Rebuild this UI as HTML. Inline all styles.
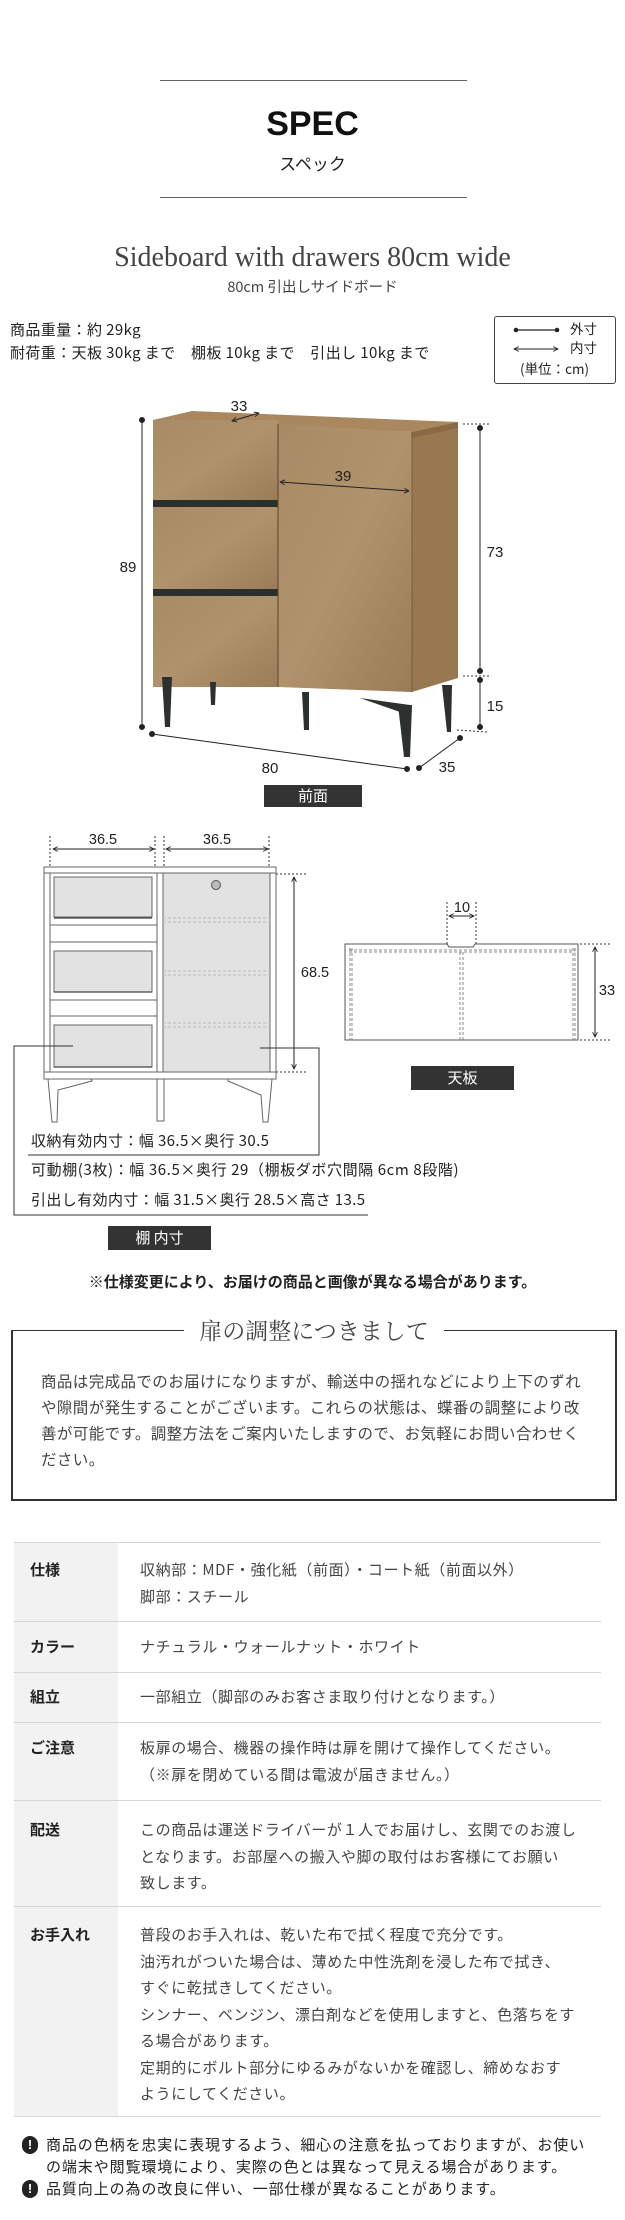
<!DOCTYPE html>
<html><head><meta charset="utf-8">
<style>
*{margin:0;padding:0;box-sizing:border-box}
body{width:625px;height:2220px;background:#fff;position:relative;overflow:hidden;font-family:"Liberation Sans","Noto Sans CJK JP",sans-serif;color:#333}
.a{position:absolute;white-space:nowrap}
.j{font-family:"Noto Sans CJK JP","Liberation Sans",sans-serif}
.lab{position:absolute;background:#333;color:#fff;text-align:center;font-size:15px;line-height:24px}
.tb{position:absolute;left:14px;width:587px;border-top:1.5px solid #d6d6d6}
.th{position:absolute;left:14px;width:104px;background:#f2f2f2}
.td{position:absolute;left:140px;font-size:15px;letter-spacing:0.6px;line-height:26.5px;color:#444;white-space:nowrap}
.tl{position:absolute;left:30px;font-size:15px;font-weight:bold;color:#222}
</style></head><body>
<div class="a" style="left:160px;top:80px;width:307px;border-top:1px solid #666"></div>
<div class="a" style="left:160px;top:197px;width:307px;border-top:1px solid #666"></div>
<div class="a" style="left:0;width:625px;top:103px;text-align:center;font-size:34px;font-weight:bold;color:#111;line-height:42px">SPEC</div>
<div class="a j" style="left:0;width:625px;top:151px;text-align:center;font-size:17px;color:#222;line-height:24px">スペック</div>
<div class="a" style="left:0;width:625px;top:241px;text-align:center;font-family:'Liberation Serif',serif;font-size:28px;color:#444;line-height:34px">Sideboard with drawers 80cm wide</div>
<div class="a j" style="left:0;width:625px;top:277px;text-align:center;font-size:14.5px;color:#444;line-height:20px">80cm 引出しサイドボード</div>
<div class="a j" style="left:10px;top:319px;font-size:15px;letter-spacing:0.4px;color:#222;line-height:22px">商品重量：約 29kg</div>
<div class="a j" style="left:10px;top:342px;font-size:15px;letter-spacing:0.4px;color:#222;line-height:22px">耐荷重：天板 30kg まで　棚板 10kg まで　引出し 10kg まで</div>
<div class="a" style="left:494px;top:316px;width:122px;height:68px;border:1px solid #444;border-radius:3px"></div>
<div class="a j" style="left:570px;top:319px;font-size:13.5px;color:#222;line-height:18px">外寸</div>
<div class="a j" style="left:570px;top:338px;font-size:13.5px;color:#222;line-height:18px">内寸</div>
<div class="a j" style="left:520px;top:359px;font-size:13.5px;color:#222;line-height:18px">(単位：cm)</div>

<svg class="a" style="left:0;top:0" width="625" height="1300" viewBox="0 0 625 1300">
<defs>
<marker id="ah" viewBox="0 0 10 10" refX="9" refY="5" markerWidth="6" markerHeight="6" orient="auto-start-reverse"><path d="M1,1 L9,5 L1,9" fill="none" stroke="#222" stroke-width="1.5"/></marker>
<linearGradient id="wd" x1="0" y1="0" x2="1" y2="1"><stop offset="0" stop-color="#a88a66"/><stop offset="0.5" stop-color="#b0926c"/><stop offset="1" stop-color="#9a7c58"/></linearGradient>
</defs>
<line x1="516" y1="330" x2="557" y2="330" stroke="#222" stroke-width="1.2"/>
<circle cx="516" cy="330" r="2.3" fill="#222"/><circle cx="557" cy="330" r="2.3" fill="#222"/>
<line x1="514" y1="349" x2="558" y2="349" stroke="#222" stroke-width="1" marker-start="url(#ah)" marker-end="url(#ah)"/>
<polygon points="153,420 192,411 458,422 412,432" fill="#a9885f"/>
<polygon points="412,432 458,422 458,678 412,692" fill="#98784f"/>
<polygon points="412,432 458,422 458,428 412,438" fill="#8a6a45"/>
<rect x="153" y="420" width="125" height="82" fill="url(#wd)"/>
<rect x="153" y="500" width="125" height="8" fill="#2c302c"/>
<rect x="153" y="507" width="125" height="84" fill="url(#wd)"/>
<rect x="153" y="589" width="125" height="8" fill="#2c302c"/>
<rect x="153" y="596" width="125" height="91" fill="url(#wd)"/>
<polygon points="278,424 412,432 412,692 278,687" fill="url(#wd)"/>
<line x1="278" y1="424" x2="278" y2="687" stroke="#5a4630" stroke-width="1"/>
<line x1="412" y1="432" x2="412" y2="692" stroke="#7a5e3e" stroke-width="1"/>
<g fill="#2c312e">
<polygon points="162,677 172,677 170,727 165,727"/>
<polygon points="210,682 216,682 215,705 211,705"/>
<polygon points="302,692 309,692 309,730 304,730"/>
<polygon points="360,698 410,705 412,712 400,712"/>
<polygon points="398,705 412,705 410,757 404,757"/>
<polygon points="442,685 452,685 451,732 447,732"/>
</g>
<g stroke="#222" stroke-width="1" fill="#222">
<line x1="142" y1="420" x2="142" y2="727"/><circle cx="142" cy="420" r="2.5"/><circle cx="142" cy="727" r="2.5"/>
<line x1="480" y1="428" x2="480" y2="671"/><circle cx="480" cy="428" r="2.5"/><circle cx="480" cy="671" r="2.5"/>
<line x1="480" y1="680" x2="480" y2="727"/><circle cx="480" cy="680" r="2.5"/><circle cx="480" cy="727" r="2.5"/>
<line x1="152" y1="734" x2="407" y2="769"/><circle cx="152" cy="734" r="2.5"/><circle cx="407" cy="769" r="2.5"/>
<line x1="419" y1="768" x2="460" y2="738"/><circle cx="419" cy="768" r="2.5"/><circle cx="460" cy="738" r="2.5"/>
</g>
<g stroke="#333" stroke-width="1" stroke-dasharray="2,2">
<line x1="463" y1="424" x2="490" y2="424"/><line x1="463" y1="676" x2="490" y2="676"/><line x1="457" y1="730" x2="487" y2="732"/>
</g>
<line x1="232" y1="421" x2="259" y2="413" stroke="#222" stroke-width="1" marker-start="url(#ah)" marker-end="url(#ah)"/>
<line x1="280" y1="482" x2="409" y2="491" stroke="#222" stroke-width="1" marker-start="url(#ah)" marker-end="url(#ah)"/>
<g font-family="Liberation Sans, sans-serif" font-size="15" fill="#222" text-anchor="middle">
<text x="239" y="411">33</text><text x="343" y="481">39</text>
<text x="128" y="572">89</text><text x="495" y="557">73</text><text x="495" y="711">15</text>
<text x="270" y="773">80</text><text x="447" y="772">35</text>
</g>

<g stroke="#333" stroke-width="1" fill="none" stroke-dasharray="2,2">
<line x1="50" y1="836" x2="50" y2="867"/><line x1="155" y1="836" x2="155" y2="867"/>
<line x1="164" y1="836" x2="164" y2="867"/><line x1="269" y1="836" x2="269" y2="867"/>
<line x1="276" y1="874" x2="308" y2="874"/><line x1="276" y1="1072" x2="308" y2="1072"/>
</g>
<line x1="53" y1="849" x2="154" y2="849" stroke="#222" stroke-width="1" marker-start="url(#ah)" marker-end="url(#ah)"/>
<line x1="166" y1="849" x2="268" y2="849" stroke="#222" stroke-width="1" marker-start="url(#ah)" marker-end="url(#ah)"/>
<line x1="294" y1="877" x2="294" y2="1069" stroke="#222" stroke-width="1" marker-start="url(#ah)" marker-end="url(#ah)"/>
<g stroke="#666" stroke-width="1" fill="#fff">
<rect x="44" y="867" width="232" height="6"/>
<rect x="44" y="873" width="6" height="199"/>
<rect x="270" y="873" width="6" height="199"/>
<rect x="157" y="873" width="6" height="199"/>
<rect x="163" y="873" width="107" height="199" fill="#e2e2e2"/>
<rect x="44" y="1072" width="232" height="7"/>
<rect x="54" y="877" width="98" height="40" fill="#e2e2e2"/>
<rect x="50" y="925" width="107" height="17"/>
<rect x="54" y="951" width="98" height="41" fill="#e2e2e2"/>
<rect x="50" y="1000" width="107" height="16"/>
<rect x="54" y="1025" width="98" height="42" fill="#e2e2e2"/>
<path d="M48,1079 L52,1122 L57,1122 L58,1090 L92,1081 L91,1079 Z"/>
<path d="M157,1079 L157,1121 L164,1121 L164,1079 Z"/>
<path d="M272,1079 L268,1122 L263,1122 L261,1095 L228,1081 L228,1079 Z"/>
</g>
<g stroke="#444" stroke-width="1.3"><line x1="54" y1="918" x2="152" y2="918"/><line x1="54" y1="992" x2="152" y2="992"/><line x1="54" y1="1067" x2="152" y2="1067"/></g>
<g stroke="#fff" stroke-width="1.2" stroke-dasharray="3,2"><line x1="163" y1="918" x2="270" y2="918"/><line x1="163" y1="922" x2="270" y2="922"/><line x1="163" y1="971" x2="270" y2="971"/><line x1="163" y1="975" x2="270" y2="975"/><line x1="163" y1="1023" x2="270" y2="1023"/><line x1="163" y1="1027" x2="270" y2="1027"/></g>
<g stroke="#999" stroke-width="0.8" stroke-dasharray="3,2"><line x1="163" y1="918" x2="270" y2="918"/><line x1="163" y1="922" x2="270" y2="922"/><line x1="163" y1="971" x2="270" y2="971"/><line x1="163" y1="975" x2="270" y2="975"/><line x1="163" y1="1023" x2="270" y2="1023"/><line x1="163" y1="1027" x2="270" y2="1027"/></g>
<circle cx="216" cy="885" r="4.5" fill="#bbb" stroke="#555"/>
<g font-family="Liberation Sans, sans-serif" font-size="14.5" fill="#222" text-anchor="middle">
<text x="103" y="844">36.5</text><text x="217" y="844">36.5</text><text x="315" y="977">68.5</text>
<text x="462" y="912">10</text><text x="607" y="995">33</text>
</g>
<g stroke="#555" stroke-width="1" fill="none">
<path d="M345,944 L447,944 L449,947 L473,947 L475,944 L578,944 L578,1040 L345,1040 Z"/>
</g>
<g stroke="#888" stroke-width="1" fill="none" stroke-dasharray="3,2">
<line x1="349" y1="950" x2="575" y2="950"/><line x1="349" y1="952" x2="575" y2="952"/>
<line x1="350" y1="948" x2="350" y2="1040"/><line x1="352" y1="948" x2="352" y2="1040"/>
<line x1="573" y1="948" x2="573" y2="1040"/><line x1="575" y1="948" x2="575" y2="1040"/>
<line x1="460" y1="952" x2="460" y2="1040"/><line x1="463" y1="952" x2="463" y2="1040"/>
</g>
<g stroke="#333" stroke-width="1" stroke-dasharray="2,2">
<line x1="447" y1="902" x2="447" y2="944"/><line x1="476" y1="902" x2="476" y2="944"/>
<line x1="580" y1="944" x2="612" y2="944"/><line x1="580" y1="1040" x2="612" y2="1040"/>
</g>
<line x1="449" y1="916" x2="474" y2="916" stroke="#222" stroke-width="1" marker-start="url(#ah)" marker-end="url(#ah)"/>
<line x1="595" y1="947" x2="595" y2="1037" stroke="#222" stroke-width="1" marker-start="url(#ah)" marker-end="url(#ah)"/>
<g stroke="#333" stroke-width="1" fill="none">
<polyline points="73,1046 14,1046 14,1215 368,1215"/>
<polyline points="260,1048 319,1048 319,1155 28,1155"/>
</g>
</svg>
<div class="lab j" style="left:264px;top:785px;width:98px;height:22px;line-height:22px">前面</div>
<div class="lab j" style="left:411px;top:1066px;width:103px;height:24px">天板</div>
<div class="lab j" style="left:108px;top:1226px;width:103px;height:24px">棚 内寸</div>
<div class="a j" style="left:31px;top:1130px;font-size:15px;letter-spacing:0.4px;color:#222;line-height:22px">収納有効内寸：幅 36.5×奥行 30.5</div>
<div class="a j" style="left:31px;top:1159px;font-size:15px;letter-spacing:0.6px;color:#222;line-height:22px">可動棚(3枚)：幅 36.5×奥行 29（棚板ダボ穴間隔 6cm 8段階)</div>
<div class="a j" style="left:31px;top:1189px;font-size:15px;letter-spacing:0.4px;color:#222;line-height:22px">引出し有効内寸：幅 31.5×奥行 28.5×高さ 13.5</div>
<div class="a j" style="left:0;width:625px;top:1271px;text-align:center;font-size:15px;font-weight:bold;color:#222;line-height:22px">※仕様変更により、お届けの商品と画像が異なる場合があります。</div>

<div class="a" style="left:11px;top:1330px;width:606px;height:171px;border:2px solid #333;border-top-width:1.5px"></div>
<div class="a" style="left:184px;top:1314px;width:260px;height:32px;background:#fff;text-align:center;font-family:'Noto Serif CJK SC','Liberation Serif',serif;font-size:23px;color:#444;line-height:32px">扉の調整につきまして</div>
<div class="a j" style="left:41px;top:1368px;font-size:15.5px;letter-spacing:0.4px;color:#444;line-height:26px">商品は完成品でのお届けになりますが、輸送中の揺れなどにより上下のずれ<br>や隙間が発生することがございます。これらの状態は、蝶番の調整により改<br>善が可能です。調整方法をご案内いたしますので、お気軽にお問い合わせく<br>ださい。</div>

<div class="th" style="top:1542px;height:574px"></div>
<div class="tb" style="top:1542px"></div><div class="tb" style="top:1621px"></div><div class="tb" style="top:1672px"></div><div class="tb" style="top:1722px"></div><div class="tb" style="top:1800px"></div><div class="tb" style="top:1906px"></div><div class="tb" style="top:2116px"></div>
<div class="tl j" style="top:1559px">仕様</div>
<div class="td j" style="top:1557px">収納部：MDF・強化紙（前面）・コート紙（前面以外）<br>脚部：スチール</div>
<div class="tl j" style="top:1636px">カラー</div>
<div class="td j" style="top:1634px">ナチュラル・ウォールナット・ホワイト</div>
<div class="tl j" style="top:1686px">組立</div>
<div class="td j" style="top:1684px">一部組立（脚部のみお客さま取り付けとなります。）</div>
<div class="tl j" style="top:1737px">ご注意</div>
<div class="td j" style="top:1735px">板扉の場合、機器の操作時は扉を開けて操作してください。<br>（※扉を閉めている間は電波が届きません。）</div>
<div class="tl j" style="top:1819px">配送</div>
<div class="td j" style="top:1817px">この商品は運送ドライバーが１人でお届けし、玄関でのお渡し<br>となります。お部屋への搬入や脚の取付はお客様にてお願い<br>致します。</div>
<div class="tl j" style="top:1924px">お手入れ</div>
<div class="td j" style="top:1922px">普段のお手入れは、乾いた布で拭く程度で充分です。<br>油汚れがついた場合は、薄めた中性洗剤を浸した布で拭き、<br>すぐに乾拭きしてください。<br>シンナー、ベンジン、漂白剤などを使用しますと、色落ちをす<br>る場合があります。<br>定期的にボルト部分にゆるみがないかを確認し、締めなおす<br>ようにしてください。</div>

<div class="a" style="left:22px;top:2136px;width:16px;height:18px;border-radius:8px;background:#222;color:#fff;font-size:13px;font-weight:bold;text-align:center;line-height:18px">!</div>
<div class="a" style="left:22px;top:2180px;width:16px;height:18px;border-radius:8px;background:#222;color:#fff;font-size:13px;font-weight:bold;text-align:center;line-height:18px">!</div>
<div class="a j" style="left:46px;top:2134px;font-size:15px;letter-spacing:0.9px;color:#222;line-height:22px">商品の色柄を忠実に表現するよう、細心の注意を払っておりますが、お使い<br>の端末や閲覧環境により、実際の色とは異なって見える場合があります。<br>品質向上の為の改良に伴い、一部仕様が異なることがあります。</div>
</body></html>
